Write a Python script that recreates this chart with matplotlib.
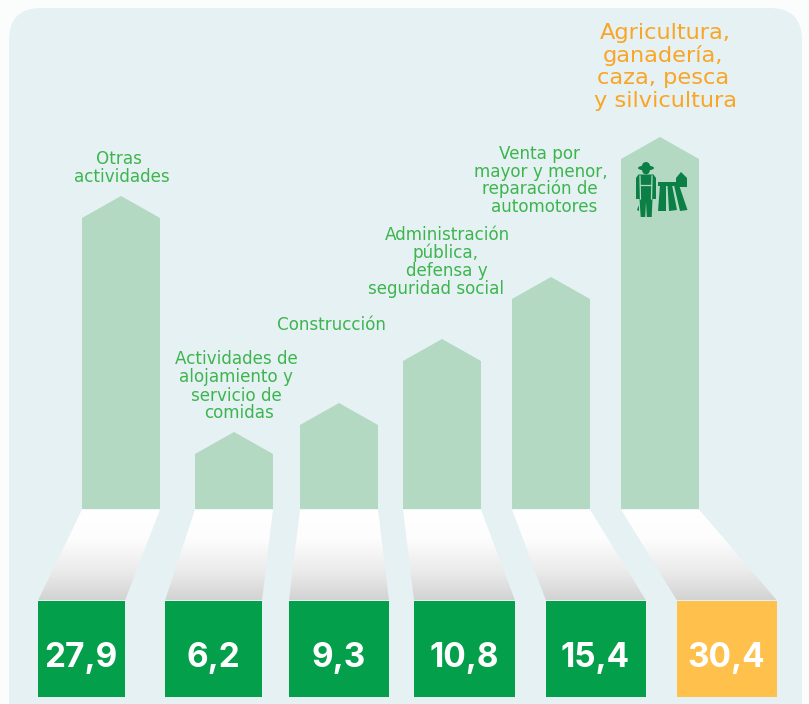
import numpy as np
import matplotlib
matplotlib.use("Agg")
import matplotlib.pyplot as plt
from matplotlib.patches import Polygon, Rectangle, FancyBboxPatch, Circle, Ellipse
from matplotlib.colors import LinearSegmentedColormap

# ---- data ----
categories = ["Otras\nactividades",
              "Actividades de\nalojamiento y\nservicio de\ncomidas",
              "Construcción",
              "Administración\npública,\ndefensa y\nseguridad social",
              "Venta por\nmayor y menor,\nreparación de\nautomotores",
              "Agricultura,\nganadería,\ncaza, pesca\ny silvicultura"]
value_labels = ["27,9", "6,2", "9,3", "10,8", "15,4", "30,4"]
# pictorial height of each arrow above its base (the picture is not to scale)
arrow_heights = [313, 77, 106, 170, 232, 372]

# ---- layout ----
W, H = 809, 704
base_y = 509
shoulder = 22
arrow_x = [(82, 160), (195, 273), (300, 378), (403, 481), (512, 590), (621, 699)]
box_x = [(38, 125), (165, 262), (289, 389), (414, 515), (546, 646), (677, 777)]
box_top, box_bottom = 600.5, 697
label_line_x = [(119, 122), (236, 236, 236, 239), (331,), (447, 446, 447, 436),
                (540, 541, 540, 544), (665, 663, 663, 666)]
label_line_y = [(159, 177), (359, 377, 396, 413), (325,), (235, 253, 271, 289),
                (154, 172, 189, 207), (32, 55, 77, 100)]
label_size = [12.1, 12.1, 12.1, 12.1, 12.1, 16.2]
green, orange, light = "#049F4A", "#FFC04C", "#B3D9C3"
text_green, text_orange = "#3DB54F", "#F9A525"
font = "DejaVu Sans"

fig = plt.figure(figsize=(W / 100, H / 100), dpi=100, facecolor="#FBFDFD")
ax = fig.add_axes([0, 0, 1, 1])
ax.axis("off")

ax.add_patch(FancyBboxPatch((9 + 32, 8 + 32), 793 - 64, 740 - 64,
                            boxstyle="round,pad=32,rounding_size=32",
                            fc="#E6F1F3", ec="none", zorder=1))

grad = LinearSegmentedColormap.from_list(
    "g", [(0, "#FFFFFF"), (0.33, "#FDFDFD"), (0.7, "#EBEAEA"), (1, "#D3D3D3")])
for i, h in enumerate(arrow_heights):
    x0, x1 = arrow_x[i]
    top = base_y - h
    ax.add_patch(Polygon([(x0, base_y), (x0, top + shoulder), ((x0 + x1) / 2, top),
                          (x1, top + shoulder), (x1, base_y)],
                         closed=True, fc=light, ec="none", zorder=2))
    bx0, bx1 = box_x[i]
    poly = Polygon([(x0, base_y + 0.5), (x1, base_y + 0.5), (bx1, box_top), (bx0, box_top)],
                   closed=True, fc="none", ec="none", zorder=2)
    ax.add_patch(poly)
    im = ax.imshow(np.linspace(0, 1, 128).reshape(-1, 1), cmap=grad, aspect="auto",
                   extent=(min(bx0, x0) - 1, max(bx1, x1) + 1, box_top, base_y),
                   zorder=3, vmin=0, vmax=1)
    im.set_clip_path(poly)
    ax.add_patch(Rectangle((bx0, box_top), bx1 - bx0, box_bottom - box_top,
                           fc=orange if i == 5 else green, ec="none", zorder=4))
    ax.text((bx0 + bx1) / 2 - 0.5, 667, value_labels[i], color="white", fontsize=24,
            fontweight="bold", family="Inter", ha="center", va="baseline", zorder=5)
    lines = categories[i].split("\n")
    for txt, lx, ly in zip(lines, label_line_x[i], label_line_y[i]):
        ax.text(lx, ly + (7 if i == 5 else 5), txt,
                color=text_orange if i == 5 else text_green,
                fontsize=label_size[i], family=font, ha="center", va="baseline", zorder=5)
ax.set_xlim(0, W)
ax.set_ylim(H, 0)

# farmer-and-field pictogram
ic = "#0B7F45"
def P(pts, c=ic, z=6):
    ax.add_patch(Polygon(pts, closed=True, fc=c, ec="none", zorder=z))
ax.add_patch(Ellipse((646, 168), 16, 5, fc=ic, ec="none", zorder=6))
ax.add_patch(Circle((646, 166), 4, fc=ic, ec="none", zorder=6))
ax.add_patch(Circle((646, 170.5), 3.8, fc=ic, ec="none", zorder=6))
P([(636, 178), (638.5, 174.5), (653.5, 174.5), (656, 178), (656, 199), (652.5, 199),
   (651.7, 217), (646.8, 217), (646, 202), (645.2, 217), (640.7, 217), (639.5, 199), (636, 199)])
ax.plot([640, 640.5], [176, 199], color=light, lw=0.9, zorder=7)
ax.plot([652, 651.5], [176, 199], color=light, lw=0.9, zorder=7)
ax.plot([640.5, 651.5], [185, 185], color=light, lw=0.9, zorder=7)
P([(637, 210), (639, 205), (639, 211)])
P([(658.5, 182), (683, 182), (683, 186), (658.5, 186)])
P([(660, 185), (666, 185), (666, 211), (658, 211)])
P([(667.5, 185), (672, 185), (677, 210), (669, 211)])
P([(674, 185), (679, 185), (687.5, 210), (680, 211)])
P([(676, 178), (681, 172), (687, 178), (687, 187), (676, 187)])
fig.savefig("out.png", dpi=100, facecolor=fig.get_facecolor())
